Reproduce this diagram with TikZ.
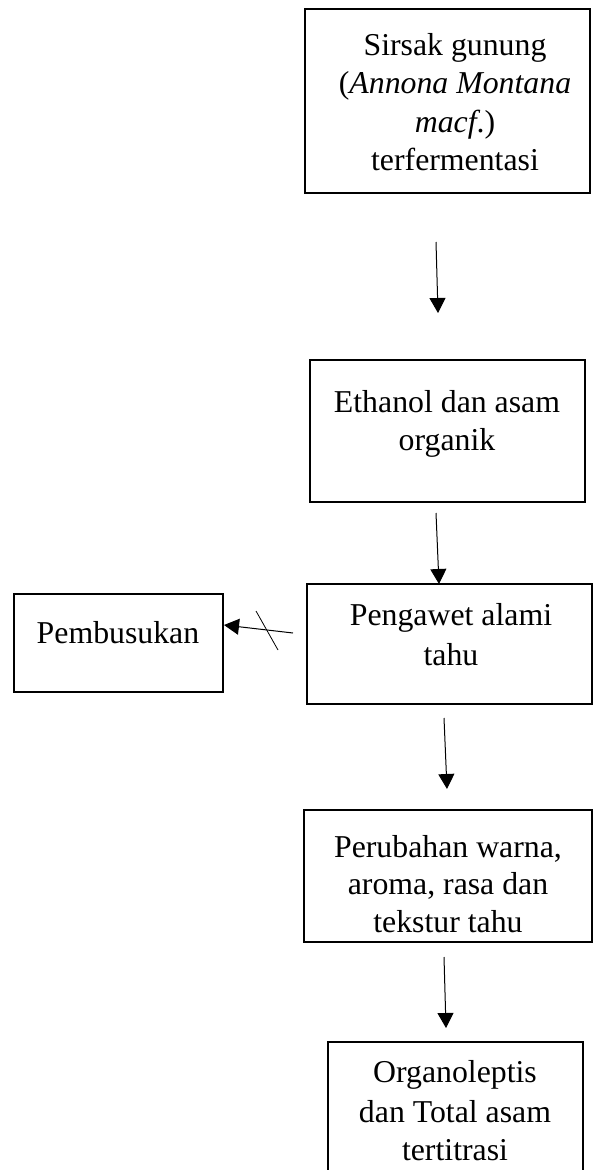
\documentclass[tikz,border=0pt]{standalone}
\usepackage{fontspec}
\setmainfont{Liberation Serif}
\usetikzlibrary{arrows.meta}
\begin{document}
\begin{tikzpicture}[x=1pt,y=-1pt,
  box/.style={draw=black,line width=2pt,inner sep=0pt},
  txt/.style={anchor=base,inner sep=0pt,font=\fontsize{31.8}{38}\selectfont},
  arr/.style={line width=1pt,-{Triangle[length=15pt,width=16pt]}}]
\useasboundingbox (0,0) rectangle (593,1170);
\clip (0,0) rectangle (593,1170);
% boxes
\draw[box] (305,9) rectangle (590,193);
\node[inner sep=0pt,minimum width=285pt,minimum height=184pt] (b1) at (447.5,101) {};
\draw[box] (310,360) rectangle (585,502);
\node[inner sep=0pt,minimum width=275pt,minimum height=142pt] (b2) at (447.5,431) {};
\draw[box] (307,584) rectangle (592,704);
\node[inner sep=0pt,minimum width=285pt,minimum height=120pt] (b3) at (449.5,644) {};
\draw[box] (14,594) rectangle (223,692);
\node[inner sep=0pt,minimum width=209pt,minimum height=98pt] (b4) at (118.5,643) {};
\draw[box] (304,810) rectangle (592,942);
\node[inner sep=0pt,minimum width=288pt,minimum height=132pt] (b5) at (448,876) {};
\draw[box] (328,1042) rectangle (583,1200);
\node[inner sep=0pt,minimum width=255pt,minimum height=158pt] (b6) at (455.5,1121) {};
% texts
\node[txt] (t1a) at (455,55) {Sirsak gunung};
\node[txt] (t1b) at (455,93) {(\textit{Annona Montana}};
\node[txt] (t1c) at (455,132) {\textit{macf}.)};
\node[txt] (t1d) at (455,170) {terfermentasi};
\node[txt] (t2a) at (447,412) {Ethanol dan asam};
\node[txt] (t2b) at (447,450) {organik};
\node[txt] (t3a) at (451,625) {Pengawet alami};
\node[txt] (t3b) at (451,665) {tahu};
\node[txt] (t4) at (118,643) {Pembusukan};
\node[txt] (t5a) at (448,857) {Perubahan warna,};
\node[txt] (t5b) at (448,894) {aroma, rasa dan};
\node[txt] (t5c) at (448,932) {tekstur tahu};
\node[txt] (t6a) at (455,1082) {Organoleptis};
\node[txt] (t6b) at (455,1122) {dan Total asam};
\node[txt] (t6c) at (455,1160) {tertitrasi};
% connectors
\coordinate (a1s) at (436,242); \coordinate (a1e) at (438,313);
\coordinate (a2s) at (436,513); \coordinate (a2e) at (439,584);
\coordinate (a3s) at (444,718); \coordinate (a3e) at (447,789);
\coordinate (a4s) at (444,957); \coordinate (a4e) at (446,1028);
\coordinate (a5s) at (293,633); \coordinate (a5e) at (224,625);
\draw[arr] (a1s) -- (a1e);
\draw[arr] (a2s) -- (a2e);
\draw[arr] (a3s) -- (a3e);
\draw[arr] (a4s) -- (a4e);
\draw[arr] (a5s) -- (a5e);
\coordinate (x1) at (256,611); \coordinate (x2) at (278,650);
\draw[line width=0.8pt] (x1) -- (x2);
\end{tikzpicture}
\end{document}
